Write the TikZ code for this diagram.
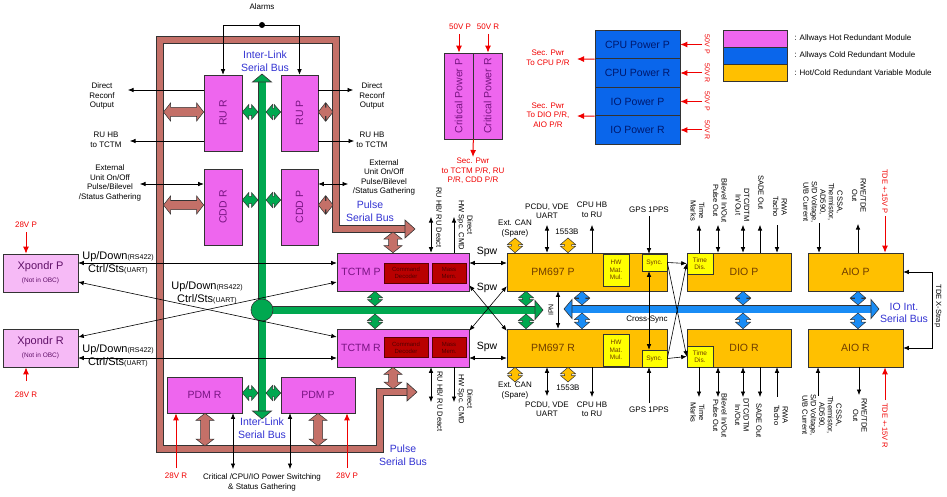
\documentclass[tikz,border=0pt]{standalone}
\usepackage{fontspec}
\setmainfont{Liberation Sans}
\usetikzlibrary{calc,arrows.meta}

\definecolor{hotpink}{RGB}{238,102,238}
\definecolor{hottext}{RGB}{120,20,130}
\definecolor{xpink}{RGB}{246,186,246}
\definecolor{coldblue}{RGB}{10,102,235}
\definecolor{coldtext}{RGB}{0,25,110}
\definecolor{varorange}{RGB}{255,192,0}
\definecolor{vartext}{RGB}{110,60,0}
\definecolor{subyellow}{RGB}{255,255,0}
\definecolor{memred}{RGB}{185,0,0}
\definecolor{busbrown}{RGB}{196,112,104}
\definecolor{busgreen}{RGB}{0,168,80}
\definecolor{iobus}{RGB}{25,140,245}
\definecolor{buslbl}{RGB}{50,50,210}
\definecolor{pwrred}{RGB}{240,0,0}

\tikzset{
  box/.style={draw=black!80, line width=0.6pt, inner sep=0pt, align=center, font=\fontsize{10.5}{12.5}\selectfont},
  hot/.style={box, fill=hotpink, text=hottext},
  xbox/.style={box, fill=xpink, text=hottext!80!black, font=\fontsize{11}{13}\selectfont},
  cold/.style={box, fill=coldblue, text=coldtext},
  var/.style={box, fill=varorange, text=vartext},
  sub/.style={box, fill=subyellow, text=vartext, font=\fontsize{6.5}{7.5}\selectfont},
  mem/.style={box, fill=memred, draw=memred!50!black, text=memred!45!black, font=\fontsize{6}{7}\selectfont},
  lbl/.style={inner sep=0pt, font=\fontsize{10.5}{12.5}\selectfont},
  txt/.style={inner sep=0pt, align=center, font=\fontsize{8}{9.5}\selectfont},
  rtxt/.style={txt, text=pwrred},
  udtxt/.style={inner sep=0pt, align=center, font=\fontsize{11}{13}\selectfont},
  bustxt/.style={inner sep=0pt, align=center, text=buslbl, font=\fontsize{10.5}{12.5}\selectfont},
  vlbl/.style={rotate=-90, inner sep=0pt, align=center, font=\fontsize{7.5}{8.5}\selectfont},
  sig/.style={-{Latex[length=5.5pt,width=4.5pt]}, line width=0.6pt},
  sigin/.style={{Latex[length=5.5pt,width=4.5pt]}-, line width=0.6pt},
  sig2/.style={{Latex[length=5.5pt,width=4.5pt]}-{Latex[length=5.5pt,width=4.5pt]}, line width=0.6pt},
  pwr/.style={-{Latex[length=7pt,width=6pt]}, draw=pwrred, line width=1pt},
  bus/.style={draw=#1, line width=6pt, preaction={draw=black!80, line width=7.4pt}},
  wbus/.style={draw=#1, line width=7pt, preaction={draw=black!80, line width=8.4pt}},
}

% block arrow: colour, head half width, shaft half width, head length, from, to
\newcommand{\blkarr}[6]{%
  \path #5 coordinate (ba) #6 coordinate (bb);
  \path ($(ba)!#4!(bb)$) coordinate (ba1) ($(bb)!#4!(ba)$) coordinate (bb1);
  \filldraw[fill=#1, draw=black!80, line width=0.5pt] (ba) -- ($(ba1)!#2!90:(bb)$) -- ($(ba1)!#3!90:(bb)$)
    -- ($(bb1)!#3!-90:(ba)$) -- ($(bb1)!#2!-90:(ba)$) -- (bb) -- ($(bb1)!#2!90:(ba)$) -- ($(bb1)!#3!90:(ba)$)
    -- ($(ba1)!#3!-90:(bb)$) -- ($(ba1)!#2!-90:(bb)$) -- cycle;}
\newcommand{\blk}[3]{\blkarr{#1}{7.5pt}{3.5pt}{6.5pt}{#2}{#3}}
\newcommand{\bblk}[2]{\blkarr{busbrown}{9pt}{4.5pt}{7pt}{#1}{#2}}
% bus arrow head: colour, half width, base, tip
\newcommand{\bhead}[4]{\filldraw[fill=#1, draw=black!80, line width=0.6pt] ($#3!#2!90:#4$) -- #4 -- ($#3!#2!-90:#4$) -- cycle;}

\begin{document}
\begin{tikzpicture}[x=1pt,y=-1pt]
\useasboundingbox (0,0) rectangle (947,497);

% buses
\draw[bus=busbrown] (405,229) -- (336,229) -- (336,40) -- (160,40) -- (160,449) -- (380,449) -- (380,392) -- (407,392);
\bhead{busbrown}{9pt}{(405,229)}{(415,229)}
\bhead{busbrown}{9pt}{(407,392)}{(417,392)}
\draw[wbus=busgreen] (262,310) -- (535,310);
\draw[wbus=busgreen] (262,82) -- (262,411);
\bhead{busgreen}{9.5pt}{(262,82)}{(262,74)}
\bhead{busgreen}{9.5pt}{(262,411)}{(262,419)}
\bhead{busgreen}{9.5pt}{(535,310)}{(543,310)}
\filldraw[fill=busgreen, draw=black!80, line width=0.6pt] (262,310) circle (11pt);
\draw[wbus=iobus] (572,309) -- (871,309);
\bhead{iobus}{9.5pt}{(572,309)}{(564,309)}
\bhead{iobus}{9.5pt}{(871,309)}{(879,309)}

\node[bustxt] (ilt) at (265,61) {Inter-Link\\Serial Bus};
\node[bustxt] (ilb) at (262,428) {Inter-Link\\Serial Bus};
\node[bustxt] (pst) at (370,211) {Pulse\\Serial Bus};
\node[bustxt] (psb) at (403,455) {Pulse\\Serial Bus};
\node[bustxt] (iot) at (904,313) {IO Int.\\Serial Bus};

% modules
\node[hot, minimum width=38pt, minimum height=76pt] (rur) at (223,113) {\rotatebox{90}{RU R}};
\node[hot, minimum width=37pt, minimum height=76pt] (rup) at (299.5,113) {\rotatebox{90}{RU P}};
\node[hot, minimum width=38pt, minimum height=76pt] (cddr) at (223,207) {\rotatebox{90}{CDD R}};
\node[hot, minimum width=37pt, minimum height=76pt] (cddp) at (299.5,207) {\rotatebox{90}{CDD P}};
\node[hot, minimum width=75pt, minimum height=36pt] (pdmr) at (204.5,395) {PDM R};
\node[hot, minimum width=74pt, minimum height=36pt] (pdmp) at (318,395) {PDM P};
\node[hot, minimum width=132pt, minimum height=38pt] (tctmp) at (403,272) {};
\node[hot, minimum width=132pt, minimum height=38pt] (tctmr) at (403,348) {};
\node[lbl, text=hottext] (tctmpl) at (361,272) {TCTM P};
\node[lbl, text=hottext] (tctmrl) at (361,348) {TCTM R};
\node[mem, minimum width=44pt, minimum height=20pt] (tpdec) at (406,273) {Command\\Decoder};
\node[mem, minimum width=34pt, minimum height=20pt] (tpmem) at (449,273) {Mass\\Mem.};
\node[mem, minimum width=44pt, minimum height=20pt] (trdec) at (406,347.5) {Command\\Decoder};
\node[mem, minimum width=34pt, minimum height=20pt] (trmem) at (449,347.5) {Mass\\Mem.};
\node[hot, minimum width=29pt, minimum height=86pt] (cpp) at (458.5,96) {\rotatebox{90}{Critical Power P}};
\node[hot, minimum width=29pt, minimum height=86pt] (cpr) at (487.5,96) {\rotatebox{90}{Critical Power R}};
\node[xbox, minimum width=75pt, minimum height=38pt] (xpp) at (40.5,273) {Xpondr P\\{\fontsize{6.5}{7}\selectfont(Not in OBC)}};
\node[xbox, minimum width=75pt, minimum height=38pt] (xpr) at (40.5,348) {Xpondr R\\{\fontsize{6.5}{7}\selectfont(Not in OBC)}};
\node[var, minimum width=160pt, minimum height=38pt] (pmp) at (587,272) {};
\node[var, minimum width=160pt, minimum height=38pt] (pmr) at (587,348) {};
\node[lbl, text=vartext] (pmpl) at (553,272) {PM697 P};
\node[lbl, text=vartext] (pmrl) at (553,348) {PM697 R};
\node[sub, minimum width=26pt, minimum height=32pt] (hwp) at (616,270) {HW\\Mat.\\Mul.};
\node[sub, minimum width=26pt, minimum height=32pt] (hwr) at (616,350) {HW\\Mat.\\Mul.};
\node[sub, minimum width=25pt, minimum height=17pt] (syncp) at (654.5,262.5) {Sync.};
\node[sub, minimum width=25pt, minimum height=17pt] (syncr) at (654.5,358.5) {Sync.};
\node[var, minimum width=104pt, minimum height=38pt] (diop) at (739,272) {\hspace*{10pt}DIO P};
\node[var, minimum width=104pt, minimum height=38pt] (dior) at (739,348) {\hspace*{10pt}DIO R};
\node[sub, minimum width=26pt, minimum height=21pt] (tdp) at (700,263.5) {Time\\Dis.};
\node[sub, minimum width=26pt, minimum height=21pt] (tdr) at (700,356.5) {Time\\Dis.};
\node[var, minimum width=95pt, minimum height=38pt] (aiop) at (855.5,272) {AIO P};
\node[var, minimum width=95pt, minimum height=38pt] (aior) at (855.5,348) {AIO R};
\node[cold, minimum width=85pt, minimum height=28.5pt] (cpup) at (637.5,44.5) {CPU Power P};
\node[cold, minimum width=85pt, minimum height=28.5pt] (cpur) at (637.5,73) {CPU Power R};
\node[cold, minimum width=85pt, minimum height=28.5pt] (iop) at (637.5,101.5) {IO Power P};
\node[cold, minimum width=85pt, minimum height=28.5pt] (ior) at (637.5,130) {IO Power R};

% legend
\node[hot, minimum width=64pt, minimum height=17pt] (lghot) at (755,38.5) {};
\node[cold, minimum width=64pt, minimum height=17pt] (lgcold) at (755,55.5) {};
\node[var, minimum width=64pt, minimum height=17pt] (lgvar) at (755,72.5) {};
\node[txt, anchor=west] (lghott) at ([xshift=7pt]lghot.east) {: Allways Hot Redundant Module};
\node[txt, anchor=west] (lgcoldt) at ([xshift=7pt]lgcold.east) {: Allways Cold Redundant Module};
\node[txt, anchor=west] (lgvart) at ([xshift=7pt]lgvar.east) {: Hot/Cold Redundant Variable Module};

% block arrows
\bblk{(163.5,112)}{(rur.west |- 0,112)}
\bblk{(163.5,205)}{(cddr.west |- 0,205)}
\bblk{(rup.east |- 0,112)}{(333,112)}
\bblk{(cddp.east |- 0,205)}{(333,205)}
\bblk{(pdmr.south -| 205,0)}{(205,446)}
\bblk{(pdmp.south -| 318,0)}{(318,446)}
\bblk{(393,232)}{(tctmp.north -| 393,0)}
\bblk{(tctmr.south -| 393,0)}{(393,389)}
\blk{busgreen}{(rur.east |- 0,112)}{(258,112)}
\blk{busgreen}{(266,112)}{(rup.west |- 0,112)}
\blk{busgreen}{(cddr.east |- 0,200)}{(258,200)}
\blk{busgreen}{(266,200)}{(cddp.west |- 0,200)}
\blk{busgreen}{(pdmr.east |- 0,393)}{(258,393)}
\blk{busgreen}{(266,393)}{(pdmp.west |- 0,393)}
\blk{busgreen}{(tctmp.south -| 375,0)}{(375,306)}
\blk{busgreen}{(375,314)}{(tctmr.north -| 375,0)}
\blk{busgreen}{(pmp.south -| 526,0)}{(526,306)}
\blk{busgreen}{(526,314)}{(pmr.north -| 526,0)}
\blk{iobus}{(pmp.south -| 582,0)}{(582,305)}
\blk{iobus}{(582,313)}{(pmr.north -| 582,0)}
\blk{iobus}{(diop.south -| 743,0)}{(743,305)}
\blk{iobus}{(743,313)}{(dior.north -| 743,0)}
\blk{iobus}{(aiop.south -| 858,0)}{(858,305)}
\blk{iobus}{(858,313)}{(aior.north -| 858,0)}
\blk{varorange}{(515,238)}{(pmp.north -| 515,0)}
\blk{varorange}{(568,238)}{(pmp.north -| 568,0)}
\blk{varorange}{(pmr.south -| 515,0)}{(515,382)}
\blk{varorange}{(pmr.south -| 568,0)}{(568,382)}

% alarms, RU and CDD lines
\node[txt] (alarms) at (262,7) {Alarms};
\coordinate (adot) at (262,25);
\draw[sig] (adot) -| (rur.north);
\draw[sig] (adot) -| (rup.north);
\fill (adot) circle (3pt);
\coordinate (drl) at (128,90);
\coordinate (hbl) at (130,141);
\coordinate (exl) at (140,184);
\draw[sig] (rur.west |- drl) -- (drl);
\draw[sig] (rur.west |- hbl) -- (hbl);
\draw[sig2] (cddr.west |- exl) -- (exl);
\node[txt] (drlt) at (102,96) {Direct\\Reconf\\Output};
\node[txt] (hblt) at (106,140) {RU HB\\to TCTM};
\node[txt] (exlt) at (110,183) {External\\Unit On/Off\\Pulse/Bilevel\\/Status Gathering};
\coordinate (drr) at (353,90);
\coordinate (hbr) at (354,141);
\coordinate (exr) at (348,184);
\draw[sig] (rup.east |- drr) -- (drr);
\draw[sig] (rup.east |- hbr) -- (hbr);
\draw[sig2] (cddp.east |- exr) -- (exr);
\node[txt] (drrt) at (372,96) {Direct\\Reconf\\Output};
\node[txt] (hbrt) at (372,140) {RU HB\\to TCTM};
\node[txt] (exrt) at (384,177.5) {External\\Unit On/Off\\Pulse/Bilevel\\/Status Gathering};

% transponders
\coordinate (ud1) at (0,263);
\coordinate (ud2) at (0,282);
\coordinate (ud3) at (0,337);
\coordinate (ud4) at (0,358);
\draw[sig2] (xpp.east |- ud1) -- (tctmp.west |- ud1);
\draw[sig2] (xpp.east |- ud2) -- (tctmr.west |- ud3);
\draw[sig2] (xpr.east |- ud3) -- (tctmp.west |- ud2);
\draw[sig2] (xpr.east |- ud4) -- (tctmr.west |- ud4);
\node[udtxt] (ud1t) at (118,262.5) {Up/Down{\fontsize{7}{8}\selectfont(RS422)}\\Ctrl/Sts{\fontsize{7}{8}\selectfont(UART)}};
\node[udtxt] (ud2t) at (207,293) {Up/Down{\fontsize{7}{8}\selectfont(RS422)}\\Ctrl/Sts{\fontsize{7}{8}\selectfont(UART)}};
\node[udtxt] (ud4t) at (118,356) {Up/Down{\fontsize{7}{8}\selectfont(RS422)}\\Ctrl/Sts{\fontsize{7}{8}\selectfont(UART)}};

% power feeds
\coordinate (v28a) at (26,232);
\coordinate (v28b) at (26,381);
\coordinate (v28c) at (176,468);
\coordinate (v28d) at (347,468);
\draw[pwr] (v28a) -- (xpp.north -| v28a);
\draw[pwr] (v28b) -- (xpr.south -| v28b);
\draw[pwr] (v28c) -- (pdmr.south -| v28c);
\draw[pwr] (v28d) -- (pdmp.south -| v28d);
\node[rtxt] (v28at) at (26,225) {28V P};
\node[rtxt] (v28bt) at (26,395) {28V R};
\node[rtxt] (v28ct) at (176,476) {28V R};
\node[rtxt] (v28dt) at (347,476) {28V P};
\coordinate (ps1) at (233,469);
\coordinate (ps2) at (290,469);
\draw[sig2] (pdmr.south -| ps1) -- (ps1);
\draw[sig2] (pdmp.south -| ps2) -- (ps2);
\node[txt] (pst) at (262,482.5) {Critical /CPU/IO Power Switching\\\& Status Gathering};
\coordinate (v50a) at (459,34);
\coordinate (v50b) at (488,34);
\coordinate (secp) at (473,157);
\draw[pwr] (v50a) -- (cpp.north -| v50a);
\draw[pwr] (v50b) -- (cpr.north -| v50b);
\draw[pwr] (cpp.south east) -- (secp);
\node[rtxt] (v50at) at (460,27) {50V P};
\node[rtxt] (v50bt) at (488,27) {50V R};
\node[rtxt] (secpt) at (473,171) {Sec. Pwr\\to TCTM P/R, RU\\P/R, CDD P/R};
\foreach \n/\v in {cpup/50V P, cpur/50V R, iop/50V P, ior/50V R}{
  \draw[pwr] ([xshift=22pt]\n.east) -- (\n.east);
  \node[rtxt, rotate=-90, font=\fontsize{7}{8}\selectfont] (\n v) at ([xshift=27pt]\n.east) {\v};
}
\coordinate (spc) at (577,59);
\coordinate (spi) at (577,116);
\draw[pwr] (cpup.south west) -- (spc);
\draw[pwr] (iop.south west) -- (spi);
\node[rtxt] (spct) at (548,57.5) {Sec. Pwr\\To CPU P/R};
\node[rtxt] (spit) at (548,115) {Sec. Pwr\\To DIO P/R,\\AIO P/R};

% TCTM lines
\coordinate (rhT) at (431,217);
\coordinate (dsT) at (454,217);
\coordinate (rhB) at (431,402);
\coordinate (dsB) at (454,402);
\draw[sig2] (tctmp.north -| rhT) -- (rhT);
\draw[sig] (tctmp.north -| dsT) -- (dsT);
\draw[sig2] (tctmr.south -| rhB) -- (rhB);
\draw[sig] (tctmr.south -| dsB) -- (dsB);
\node[vlbl, anchor=west] (rhTt) at (439,187) {RU HB/ RU Deact};
\node[vlbl] (dsTt) at (465,225) {Direct\\HW Spc. CMD};
\node[vlbl, anchor=west] (rhBt) at (440,371) {RU HB/ RU Deact};
\node[vlbl] (dsBt) at (465,399) {Direct\\HW Spc. CMD};
\draw[sig2] (tctmp.east |- ud1) -- (pmp.west |- ud1);
\draw[sig2] (tctmr.east |- ud4) -- (pmr.west |- ud4);
\draw[sig2] ([yshift=6pt]tctmp.south east) -- ([yshift=-2pt]pmr.north west);
\draw[sig2] ([yshift=-2pt]tctmr.north east) -- ([yshift=5pt]pmp.south west);
\node[lbl] (spw1) at (487,252) {Spw};
\node[lbl] (spw2) at (487,288) {Spw};
\node[lbl] (spw3) at (487,347) {Spw};

% PM697 lines
\coordinate (pcT) at (547,225);
\coordinate (hbT) at (592,225);
\coordinate (gpT) at (649,216);
\coordinate (pcB) at (547,396);
\coordinate (hbB) at (592,397);
\coordinate (gpB) at (649,403);
\draw[sig2] (pmp.north -| pcT) -- (pcT);
\draw[sig] (pmp.north -| hbT) -- (hbT);
\draw[sig] (gpT) -- (syncp.north -| gpT);
\draw[sig2] (pmr.south -| pcB) -- (pcB);
\draw[sig] (pmr.south -| hbB) -- (hbB);
\draw[sig] (gpB) -- (syncr.south -| gpB);
\node[txt] (canTt) at (515,228.5) {Ext. CAN\\(Spare)};
\node[txt] (pcTt) at (547,211) {PCDU, VDE\\UART};
\node[txt] (mbTt) at (567,232) {1553B};
\node[txt] (hbTt) at (592,209.5) {CPU HB\\to RU};
\node[txt] (gpTt) at (649,210) {GPS 1PPS};
\node[txt] (canBt) at (515,390.5) {Ext. CAN\\(Spare)};
\node[txt] (pcBt) at (547,409) {PCDU, VDE\\UART};
\node[txt] (mbBt) at (568,388) {1553B};
\node[txt] (hbBt) at (592,409) {CPU HB\\to RU};
\node[txt] (gpBt) at (649,410) {GPS 1PPS};
\coordinate (ipn) at (558,310);
\draw[sig2] (pmp.south -| ipn) -- (pmr.north -| ipn);
\node[txt, rotate=90, font=\fontsize{7}{8}\selectfont] (ipnt) at (551,310) {IPN};
\draw[sig2] (syncp.south -| gpT) -- (syncr.north -| gpT);
\node[txt] (xsync) at (647,320) {Cross-Sync};
\draw[sig] (syncp.east) -- (tdp.west);
\draw[sig] (syncr.east) -- (tdr.west);
\draw[sig] (syncp.east) -- (tdr.west);
\draw[sig] (syncr.east) -- (tdp.west);

% DIO and AIO lines
\foreach \x/\s [count=\i] in {699/sig, 718/sig2, 743/sig2, 760/sig, 777/sigin}{
  \coordinate (dt\i) at (\x,225);
  \draw[\s] (diop.north -| dt\i) -- (dt\i);
  \coordinate (db\i) at (\x,397);
  \draw[\s] (dior.south -| db\i) -- (db\i);
}
\coordinate (at1) at (819,223);
\coordinate (at2) at (858,224);
\coordinate (at3) at (885,216);
\coordinate (ab1) at (818,396);
\coordinate (ab2) at (859,395);
\coordinate (ab3) at (885,400);
\draw[sigin] (aiop.north -| at1) -- (at1);
\draw[sig] (aiop.north -| at2) -- (at2);
\draw[pwr] (at3) -- (aiop.north -| at3);
\draw[sigin] (aior.south -| ab1) -- (ab1);
\draw[sig] (aior.south -| ab2) -- (ab2);
\draw[pwr] (ab3) -- (aior.south -| ab3);
\node[vlbl, anchor=east] (dt1t) at (697.5,221) {Time\\Marks};
\node[vlbl, anchor=east] (dt2t) at (720,223) {Bilevel In/Out\\Pulse Out};
\node[vlbl, anchor=east] (dt3t) at (742.5,222) {DTC/DTM\\In/Out};
\node[vlbl, anchor=east] (dt4t) at (761,210) {SADE Out};
\node[vlbl, anchor=east] (dt5t) at (780,217) {RWA\\Tacho};
\node[vlbl, anchor=east] (at1t) at (823,223) {CSSA,\\Thermistor,\\AD590,\\S/D Voltage,\\U/B Current};
\node[vlbl, anchor=east] (at2t) at (859,213) {RWE/TDE\\Out};
\node[vlbl, anchor=east, text=pwrred] (at3t) at (885,214) {TDE +-15V P};
\node[vlbl, anchor=west] (db1t) at (697.5,402) {Time\\Marks};
\node[vlbl, anchor=west] (db2t) at (720,393) {Bilevel In/Out\\Pulse Out};
\node[vlbl, anchor=west] (db3t) at (742,398) {DTC/DTM\\In/Out};
\node[vlbl, anchor=west] (db4t) at (759,403) {SADE Out};
\node[vlbl, anchor=west] (db5t) at (781,405) {RWA\\Tacho};
\node[vlbl, anchor=west] (ab1t) at (822,394) {CSSA,\\Thermistor,\\AD590,\\S/D Voltage,\\U/B Current};
\node[vlbl, anchor=west] (ab2t) at (860,398) {RWE/TDE\\Out};
\node[vlbl, anchor=west, text=pwrred] (ab3t) at (885,403) {TDE +-15V R};
\coordinate (xs) at (932,310);
\draw[sig2] (aiop.east) -| (xs) |- (aior.east);
\node[vlbl] (xst) at (938,306) {TDE X-Strap};
\end{tikzpicture}
\end{document}
